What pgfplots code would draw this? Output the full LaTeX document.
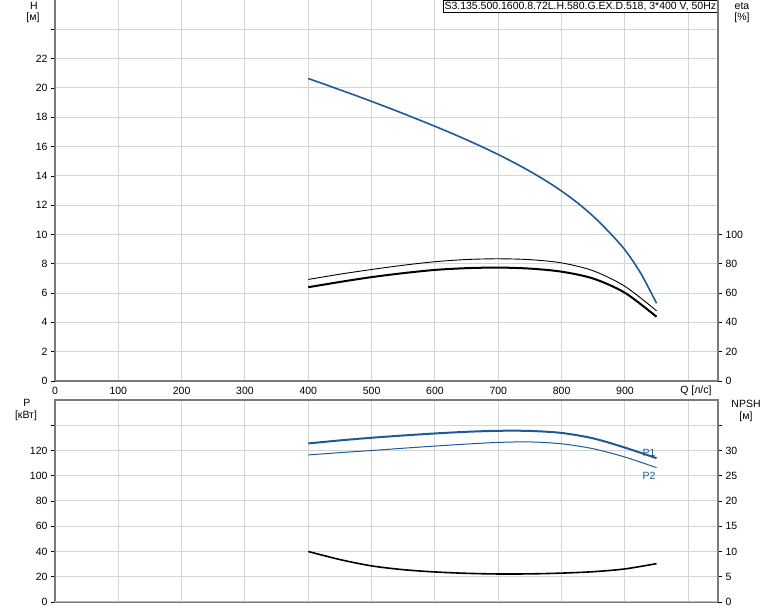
\documentclass[border=0pt]{standalone}
\usepackage{pgfplots}
\pgfplotsset{compat=1.18}
\usepackage{fontspec}
\setmainfont{Liberation Sans}
\definecolor{curveblue}{HTML}{1F5A96}
\definecolor{gridgray}{HTML}{D4D4D4}
\definecolor{axgray}{HTML}{7A7A7A}
\definecolor{botgray}{HTML}{B8B8B8}
\begin{document}
\begin{tikzpicture}[font=\fontsize{10.5bp}{12.5bp}\selectfont]
\useasboundingbox (0,0) rectangle (774bp,611bp);
\pgfplotsset{
  common/.style={
    scale only axis, width=663bp, anchor=south west,
    xmin=0, xmax=1047,
    /pgf/number format/assume math mode=true,
    tick align=outside, major tick length=4bp,
    tick style={black, line width=0.6bp},
    axis line style={axgray, line width=2bp},
    major grid style={gridgray, line width=1bp},
  }
}
% ---------- top panel: H ----------
\begin{axis}[common, at={(55bp,230bp)}, height=381bp,
  ymin=0, ymax=26,
  axis x line*=bottom, axis y line*=left,
  xtick={0,100,...,1000},
  xticklabels={0,100,200,300,400,500,600,700,800,900,{}},
  xtick style={draw=none},
  xticklabel style={yshift=1bp},
  ytick={0,2,...,24},
  yticklabels={0,2,4,6,8,10,12,14,16,18,20,22,{}},
  grid=major]
\addplot[curveblue, line width=1.6bp, smooth] coordinates {
 (400,20.64) (425,20.26) (450,19.87) (475,19.48) (500,19.08) (525,18.67)
 (550,18.25) (575,17.82) (600,17.38) (625,16.93) (650,16.46) (675,15.97)
 (700,15.45) (725,14.90) (750,14.31) (775,13.67) (800,12.96) (825,12.16)
 (850,11.24) (875,10.16) (900,8.95) (925,7.35) (950,5.3)};
\node[draw=black, fill=white, line width=0.5bp, anchor=north east, inner sep=1.6bp]
  at (rel axis cs:1,1) {S3.135.500.1600.8.72L.H.580.G.EX.D.518, 3*400 V, 50Hz};
\end{axis}
% ---------- top panel: eta (right axis) ----------
\begin{axis}[common, at={(55bp,230bp)}, height=381bp,
  ymin=0, ymax=260,
  axis x line=none, axis y line*=right,
  ytick={0,20,...,100}]
\addplot[black, line width=0.9bp, smooth] coordinates {
 (400,69.3) (450,72.9) (500,76.1) (550,79.0) (600,81.4) (650,82.9)
 (700,83.4) (750,82.8) (800,80.6) (850,75.2) (900,64.6) (950,47.9)};
\addplot[black, line width=2bp, smooth] coordinates {
 (400,64.0) (450,67.6) (500,70.9) (550,73.6) (600,75.8) (650,77.0)
 (700,77.4) (750,76.7) (800,74.6) (850,69.9) (900,60.2) (950,43.8)};
\end{axis}
% ---------- bottom panel: P ----------
\begin{axis}[common, at={(55bp,9bp)}, height=202bp,
  ymin=0, ymax=160,
  xtick={0,100,...,1000}, xticklabels={}, xtick style={draw=none},
  ytick={0,20,...,140},
  yticklabels={0,20,40,60,80,100,120,{}},
  ytick pos=left,
  grid=major]
\addplot[curveblue, line width=2bp, smooth] coordinates {
 (400,125.6) (450,128.0) (500,130.1) (550,131.9) (600,133.5) (650,134.8)
 (700,135.6) (750,135.5) (800,133.9) (850,129.6) (900,122.3) (950,113.9)};
\addplot[curveblue, line width=1bp, smooth] coordinates {
 (400,116.5) (450,118.3) (500,120.0) (550,121.8) (600,123.5) (650,125.1)
 (700,126.4) (750,126.8) (800,125.3) (850,121.4) (900,114.8) (950,106.4)};
\node[curveblue] at (axis cs:938,118.5) {P1};
\node[curveblue] at (axis cs:938,99.6) {P2};
\draw[botgray, line width=2.4bp] (rel axis cs:0,0) -- (rel axis cs:1,0);
\end{axis}
% ---------- bottom panel: NPSH (right axis) ----------
\begin{axis}[common, at={(55bp,9bp)}, height=202bp,
  ymin=0, ymax=40,
  axis x line=none, axis y line*=right,
  ytick={0,5,...,35},
  yticklabels={0,5,10,15,20,25,30,{}}]
\addplot[black, line width=1.6bp, smooth] coordinates {
 (400,10.0) (450,8.4) (500,7.15) (550,6.4) (600,5.95) (650,5.68)
 (700,5.55) (750,5.57) (800,5.72) (850,6.0) (900,6.55) (950,7.6)};
\end{axis}
% ---------- axis titles ----------
\node at (34bp,605bp) {H};
\node at (33bp,593bp) {[м]};
\node at (742bp,605bp) {eta};
\node at (742bp,593bp) {[\%]};
\node at (27bp,208bp) {P};
\node at (26bp,195bp) {[кВт]};
\node at (746bp,207bp) {NPSH};
\node at (746bp,194bp) {[м]};
\node[anchor=east] at (715bp,220bp) {Q [л/с]};
\end{tikzpicture}
\end{document}
